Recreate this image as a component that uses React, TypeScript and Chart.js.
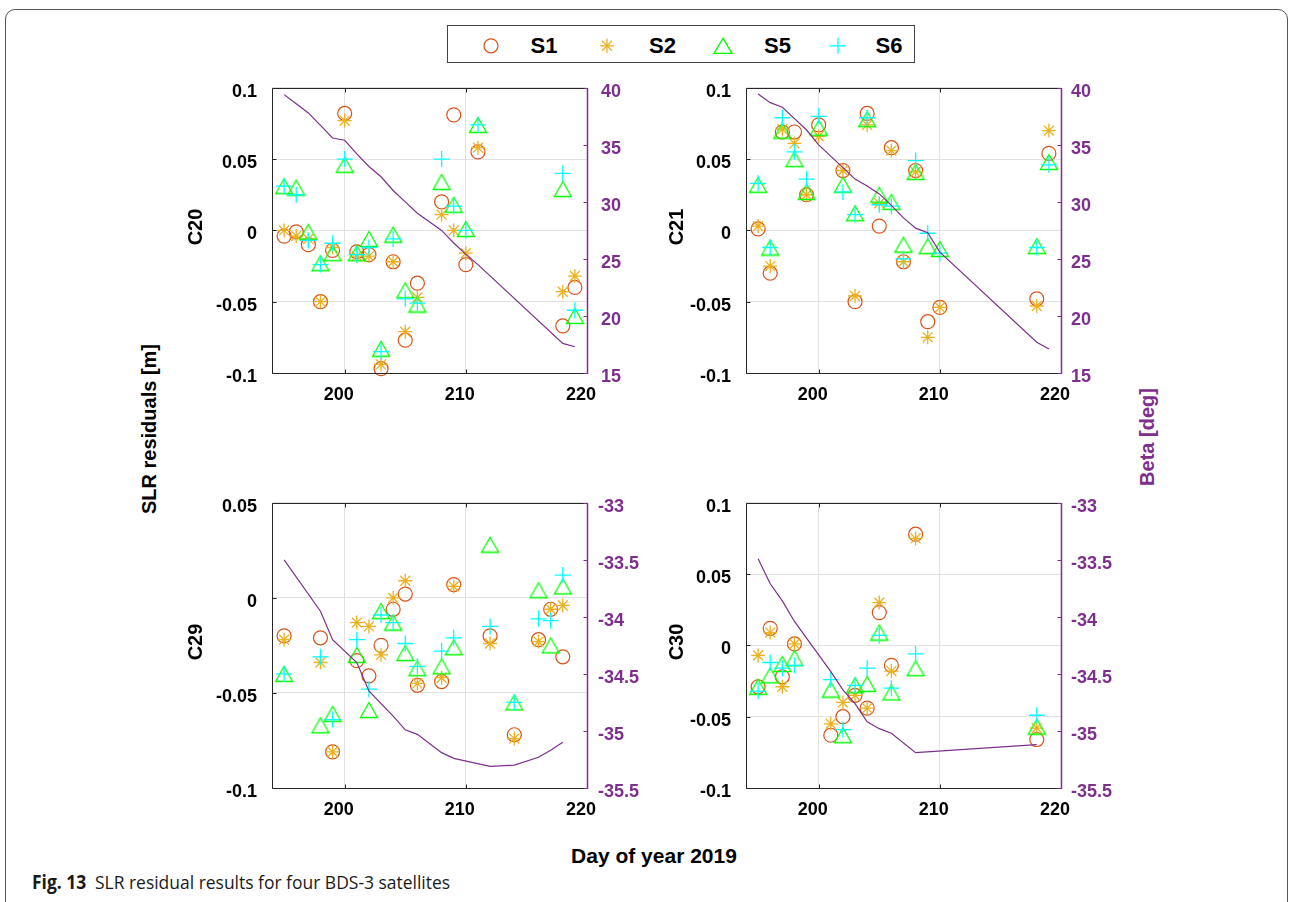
import React, { useEffect, useLayoutEffect, useRef, useState } from 'react';
import { Chart, registerables } from 'chart.js';

Chart.register(...registerables);

// ---------------- data ----------------
const X_TICKS = [200, 210, 220];
const Y_TICKS_FULL = [-0.1, -0.05, 0, 0.05, 0.1];
const Y_TICKS_C29 = [-0.1, -0.05, 0, 0.05];
const BETA_TICKS_TOP = [15, 20, 25, 30, 35, 40];
const BETA_TICKS_BOTTOM = [-35.5, -35, -34.5, -34, -33.5, -33];

const SERIES_NAMES = ['S1', 'S2', 'S5', 'S6'];

// C20
const C20_DAYS = [195, 196, 197, 198, 199, 200, 201, 202, 203, 204, 205, 206, 208, 209, 210, 211, 218, 219];
const C20_S1 = [-0.004, -0.001, -0.010, -0.050, -0.014, 0.082, -0.015, -0.017, -0.097, -0.022, -0.077, -0.037, 0.020, 0.081, -0.024, 0.055, -0.067, -0.040];
const C20_S2 = [0.000, -0.004, -0.006, -0.050, -0.012, 0.077, -0.018, -0.018, -0.094, -0.022, -0.071, -0.047, 0.011, 0.000, -0.016, 0.058, -0.043, -0.032];
const C20_S5 = [0.031, 0.030, -0.001, -0.023, -0.016, 0.046, -0.016, -0.006, -0.083, -0.003, -0.042, -0.052, 0.034, 0.018, 0.001, 0.074, 0.029, -0.060];
const C20_S6 = [0.031, 0.025, -0.007, -0.024, -0.009, 0.050, -0.017, -0.012, -0.085, -0.006, -0.048, -0.051, 0.050, 0.017, 0.000, 0.074, 0.040, -0.056];
const C20_BETA = [39.4, 38.6, 37.8, 36.7, 35.6, 35.4, 34.2, 33.1, 32.2, 31.0, 30.0, 29.0, 27.5, 26.4, 25.4, 24.5, 17.6, 17.3];

// C21
const C21_DAYS = [195, 196, 197, 198, 199, 200, 202, 203, 204, 205, 206, 207, 208, 209, 210, 218, 219];
const C21_S1 = [0.001, -0.030, 0.069, 0.069, 0.025, 0.074, 0.042, -0.050, 0.082, 0.003, 0.058, -0.022, 0.042, -0.064, -0.054, -0.048, 0.054];
const C21_S2 = [0.003, -0.025, 0.071, 0.061, 0.025, 0.066, 0.042, -0.046, 0.074, 0.019, 0.056, -0.022, 0.041, -0.075, -0.054, -0.053, 0.070];
const C21_S5 = [0.032, -0.012, 0.070, 0.050, 0.027, 0.072, 0.032, 0.012, 0.078, 0.025, 0.020, -0.010, 0.041, -0.011, -0.013, -0.011, 0.048];
const C21_S6 = [0.033, -0.012, 0.079, 0.055, 0.036, 0.080, 0.027, 0.011, 0.079, 0.018, 0.017, -0.020, 0.049, -0.002, -0.016, -0.012, 0.046];
const C21_BETA = [39.45, 38.7, 38.3, 37.3, 36.3, 35.0, 33.0, 32.0, 31.4, 30.7, 29.7, 28.6, 27.7, 27.3, 25.6, 17.7, 17.1];

// C29
const C29_DAYS = [195, 198, 199, 201, 202, 203, 204, 205, 206, 208, 209, 212, 214, 216, 217, 218];
const C29_S1 = [-0.020, -0.021, -0.081, -0.033, -0.041, -0.025, -0.006, 0.002, -0.046, -0.044, 0.007, -0.020, -0.072, -0.022, -0.006, -0.031];
const C29_S2 = [-0.022, -0.034, -0.081, -0.013, -0.015, -0.030, 0.000, 0.009, -0.045, -0.042, 0.006, -0.024, -0.074, -0.023, -0.006, -0.004];
const C29_S5 = [-0.040, -0.067, -0.061, -0.030, -0.059, -0.007, -0.013, -0.029, -0.037, -0.036, -0.026, 0.028, -0.055, 0.004, -0.025, 0.006];
const C29_S6 = [-0.040, -0.031, -0.064, -0.022, -0.048, -0.009, -0.013, -0.024, -0.036, -0.028, -0.021, -0.015, -0.055, -0.011, -0.012, 0.012];
const C29_BETA = [-33.50, -33.95, -34.20, -34.40, -34.65, -34.76, -34.87, -34.99, -35.03, -35.19, -35.24, -35.31, -35.30, -35.23, -35.17, -35.10];

// C30
const C30_DAYS = [195, 196, 197, 198, 201, 202, 203, 204, 205, 206, 208, 218];
const C30_S1 = [-0.029, 0.012, -0.022, 0.001, -0.063, -0.050, -0.035, -0.044, 0.023, -0.014, 0.078, -0.066];
const C30_S2 = [-0.007, 0.009, -0.029, 0.001, -0.055, -0.040, -0.035, -0.044, 0.030, -0.018, 0.075, -0.058];
const C30_S5 = [-0.029, -0.021, -0.013, -0.009, -0.031, -0.063, -0.028, -0.027, 0.009, -0.033, -0.016, -0.057];
const C30_S6 = [-0.032, -0.012, -0.016, -0.014, -0.024, -0.059, -0.028, -0.016, 0.007, -0.030, -0.006, -0.049];
const C30_BETA = [-33.49, -33.71, -33.86, -34.04, -34.48, -34.64, -34.76, -34.92, -34.98, -35.02, -35.19, -35.12];

// ---------------- styles ----------------
const FONT = '"Liberation Sans", Arial, Helvetica, sans-serif';
const PURPLE = '#7E2F8E';
const C_S1 = '#D95319';
const C_S2 = '#EDB120';
const C_S5 = '#00FF00';
const C_S6 = '#00FFFF';
const GRID = '#e2e2e2';
const AXIS = '#262626';

const PLOT_W = 315;
const PLOT_H = 299;
const PAD_L = 80;
const PAD_R = 60;
const PAD_T = 12;
const PAD_B = 40;

type PanelDef = {
  name: string;
  left: number;
  top: number;
  titleX: number;
  days: number[];
  s: number[][];
  beta: number[];
  yMin: number;
  yMax: number;
  yTicks: number[];
  bMin: number;
  bMax: number;
  bTicks: number[];
  rightPad: number;
};

const PANELS: PanelDef[] = [
  { name: 'C20', left: 272, top: 74, titleX: 194.5, days: C20_DAYS, s: [C20_S1, C20_S2, C20_S5, C20_S6], beta: C20_BETA, yMin: -0.1, yMax: 0.1, yTicks: Y_TICKS_FULL, bMin: 15, bMax: 40, bTicks: BETA_TICKS_TOP, rightPad: 14 },
  { name: 'C21', left: 746, top: 74, titleX: 676, days: C21_DAYS, s: [C21_S1, C21_S2, C21_S5, C21_S6], beta: C21_BETA, yMin: -0.1, yMax: 0.1, yTicks: Y_TICKS_FULL, bMin: 15, bMax: 40, bTicks: BETA_TICKS_TOP, rightPad: 10 },
  { name: 'C29', left: 272, top: 489, titleX: 194.5, days: C29_DAYS, s: [C29_S1, C29_S2, C29_S5, C29_S6], beta: C29_BETA, yMin: -0.1, yMax: 0.05, yTicks: Y_TICKS_C29, bMin: -35.5, bMax: -33, bTicks: BETA_TICKS_BOTTOM, rightPad: 11 },
  { name: 'C30', left: 746, top: 489, titleX: 676, days: C30_DAYS, s: [C30_S1, C30_S2, C30_S5, C30_S6], beta: C30_BETA, yMin: -0.1, yMax: 0.1, yTicks: Y_TICKS_FULL, bMin: -35.5, bMax: -33, bTicks: BETA_TICKS_BOTTOM, rightPad: 10 },
];

function makeTriangle(color: string): HTMLCanvasElement {
  const c = document.createElement('canvas');
  c.width = 20;
  c.height = 18;
  const ctx = c.getContext('2d')!;
  ctx.strokeStyle = color;
  ctx.lineWidth = 1.3;
  ctx.lineJoin = 'miter';
  ctx.beginPath();
  ctx.moveTo(10, 1.5);
  ctx.lineTo(1.5, 16.5);
  ctx.lineTo(18.5, 16.5);
  ctx.closePath();
  ctx.stroke();
  return c;
}

const boxPlugin = {
  id: 'matlabBox',
  afterDraw(chart: any) {
    const { ctx, chartArea: a, scales } = chart;
    const L = Math.round(a.left) + 0.5;
    const R = Math.round(a.right) + 0.5;
    const T = Math.round(a.top) + 0.5;
    const B = Math.round(a.bottom) + 0.5;
    const tl = 4;
    ctx.save();
    ctx.lineWidth = 1;
    ctx.strokeStyle = AXIS;
    ctx.beginPath();
    scales.x.ticks.forEach((t: any) => {
      const px = Math.round(scales.x.getPixelForValue(t.value)) + 0.5;
      ctx.moveTo(px, B);
      ctx.lineTo(px, B - tl);
      ctx.moveTo(px, T);
      ctx.lineTo(px, T + tl);
    });
    scales.y.ticks.forEach((t: any) => {
      const py = Math.round(scales.y.getPixelForValue(t.value)) + 0.5;
      ctx.moveTo(L, py);
      ctx.lineTo(L + tl, py);
    });
    ctx.stroke();
    ctx.beginPath();
    ctx.moveTo(R, T);
    ctx.lineTo(L, T);
    ctx.lineTo(L, B);
    ctx.lineTo(R, B);
    ctx.stroke();
    ctx.strokeStyle = PURPLE;
    ctx.lineWidth = 1.5;
    ctx.beginPath();
    ctx.moveTo(R, T - 0.5);
    ctx.lineTo(R, B + 0.5);
    ctx.stroke();
    ctx.lineWidth = 1;
    ctx.beginPath();
    scales.y1.ticks.forEach((t: any) => {
      const py = Math.round(scales.y1.getPixelForValue(t.value)) + 0.5;
      ctx.moveTo(R, py);
      ctx.lineTo(R - tl, py);
    });
    ctx.stroke();
    ctx.restore();
  },
};

const tickFont = { family: FONT, size: 18, weight: 'bold' as const };

function Panel({ def }: { def: PanelDef }) {
  const ref = useRef<HTMLCanvasElement>(null);
  const W = PAD_L + PLOT_W + PAD_R;
  const H = PAD_T + PLOT_H + PAD_B;
  useEffect(() => {
    if (!ref.current) return;
    const mk = (vals: number[]) => def.days.map((d, i) => ({ x: d, y: vals[i] }));
    const tri = makeTriangle(C_S5);
    const chart = new Chart(ref.current, {
      type: 'scatter',
      data: {
        datasets: [
          { label: SERIES_NAMES[0], data: mk(def.s[0]), yAxisID: 'y', pointStyle: 'circle', pointRadius: 7, borderColor: C_S1, backgroundColor: 'rgba(0,0,0,0)', borderWidth: 1.2, order: 4, clip: false },
          { label: SERIES_NAMES[1], data: mk(def.s[1]), yAxisID: 'y', pointStyle: 'star', pointRadius: 7, borderColor: C_S2, backgroundColor: 'rgba(0,0,0,0)', borderWidth: 1.3, order: 3, clip: false },
          { label: SERIES_NAMES[2], data: mk(def.s[2]), yAxisID: 'y', pointStyle: tri, pointRadius: 9, borderColor: C_S5, backgroundColor: 'rgba(0,0,0,0)', borderWidth: 1.2, order: 2, clip: false },
          { label: SERIES_NAMES[3], data: mk(def.s[3]), yAxisID: 'y', pointStyle: 'cross', pointRadius: 8, borderColor: C_S6, backgroundColor: 'rgba(0,0,0,0)', borderWidth: 1.3, order: 1, clip: false },
          { type: 'line', label: 'Beta', data: mk(def.beta), yAxisID: 'y1', borderColor: PURPLE, borderWidth: 1.2, pointRadius: 0, showLine: true, fill: false, tension: 0, order: 0 } as any,
        ],
      },
      options: {
        responsive: false,
        maintainAspectRatio: false,
        animation: false,
        events: [],
        layout: { padding: { top: PAD_T, left: 0, right: 0, bottom: 0 } },
        plugins: { legend: { display: false }, tooltip: { enabled: false } },
        scales: {
          x: {
            type: 'linear',
            min: 194,
            max: 220,
            afterBuildTicks: (ax: any) => { ax.ticks = X_TICKS.map((v) => ({ value: v })); },
            afterFit: (ax: any) => { ax.height = PAD_B; },
            grid: { color: GRID, lineWidth: 1, drawTicks: false },
            border: { display: false },
            ticks: { font: tickFont, color: '#000', padding: 11, labelOffset: -6, maxRotation: 0, autoSkip: false, callback: (v: any) => String(v) },
          },
          y: {
            type: 'linear',
            position: 'left',
            min: def.yMin,
            max: def.yMax,
            afterBuildTicks: (ax: any) => { ax.ticks = def.yTicks.map((v) => ({ value: v })); },
            afterFit: (ax: any) => { ax.width = PAD_L; },
            grid: { color: GRID, lineWidth: 1, drawTicks: false },
            border: { display: false },
            ticks: { font: tickFont, color: '#000', padding: 15, labelOffset: 4, autoSkip: false, callback: (v: any) => String(v) },
          },
          y1: {
            type: 'linear',
            position: 'right',
            min: def.bMin,
            max: def.bMax,
            afterBuildTicks: (ax: any) => { ax.ticks = def.bTicks.map((v) => ({ value: v })); },
            afterFit: (ax: any) => { ax.width = PAD_R; },
            grid: { display: false, drawTicks: false },
            border: { display: false },
            ticks: { font: tickFont, color: PURPLE, padding: def.rightPad, labelOffset: 4, autoSkip: false, callback: (v: any) => String(v) },
          },
        },
      } as any,
      plugins: [boxPlugin],
    });
    return () => chart.destroy();
  }, [def]);
  return (
    <canvas
      ref={ref}
      width={W}
      height={H}
      style={{ position: 'absolute', left: def.left - PAD_L, top: def.top - PAD_T, width: W, height: H }}
    />
  );
}

function RotText({ x, y, text, color }: { x: number; y: number; text: string; color?: string }) {
  return (
    <div
      style={{
        position: 'absolute',
        left: x,
        top: y,
        transform: 'translate(-50%, -50%) rotate(-90deg)',
        whiteSpace: 'nowrap',
        fontFamily: FONT,
        fontWeight: 'bold',
        fontSize: 20,
        lineHeight: '20px',
        color: color || '#000',
      }}
    >
      {text}
    </div>
  );
}

function Legend() {
  const cy = 20.8;
  const xs = [44, 160, 276, 391];
  const textX = [544, 662.5, 777.5, 889];
  return (
    <>
      <div style={{ position: 'absolute', left: 447, top: 25, width: 468, height: 38, boxSizing: 'border-box', border: '1px solid #444', background: '#fff' }} />
      <svg width={468} height={38} style={{ position: 'absolute', left: 447, top: 25 }}>
        <circle cx={xs[0]} cy={cy} r={7} fill="none" stroke={C_S1} strokeWidth={1.2} />
        <g stroke={C_S2} strokeWidth={1.3}>
          <line x1={xs[1] - 7} y1={cy} x2={xs[1] + 7} y2={cy} />
          <line x1={xs[1]} y1={cy - 7} x2={xs[1]} y2={cy + 7} />
          <line x1={xs[1] - 5} y1={cy - 5} x2={xs[1] + 5} y2={cy + 5} />
          <line x1={xs[1] - 5} y1={cy + 5} x2={xs[1] + 5} y2={cy - 5} />
        </g>
        <polygon points={`${xs[2]},${cy - 7.5} ${xs[2] - 9},${cy + 7.5} ${xs[2] + 9},${cy + 7.5}`} fill="none" stroke={C_S5} strokeWidth={1.3} />
        <g stroke={C_S6} strokeWidth={1.3}>
          <line x1={xs[3] - 8} y1={cy} x2={xs[3] + 8} y2={cy} />
          <line x1={xs[3]} y1={cy - 8} x2={xs[3]} y2={cy + 8} />
        </g>
      </svg>
      {SERIES_NAMES.map((n, i) => (
        <div
          key={n}
          style={{
            position: 'absolute',
            left: textX[i],
            top: 45.8,
            transform: 'translate(-50%, -50%)',
            fontFamily: FONT,
            fontWeight: 'bold',
            fontSize: 22,
            lineHeight: '22px',
            whiteSpace: 'nowrap',
            color: '#000',
          }}
        >
          {n}
        </div>
      ))}
    </>
  );
}

const CAPTION_WIDTH = 418;

function Caption() {
  const ref = useRef<HTMLDivElement>(null);
  const [sx, setSx] = useState(1);
  useLayoutEffect(() => {
    if (ref.current) {
      const w = ref.current.scrollWidth;
      if (w > 0) setSx(CAPTION_WIDTH / w);
    }
  }, []);
  return (
    <div
      ref={ref}
      style={{
        position: 'absolute',
        left: 32,
        top: 873,
        fontFamily: '"Open Sans", "Noto Sans", sans-serif',
        fontSize: 19,
        lineHeight: '18px',
        whiteSpace: 'nowrap',
        color: '#1a1a1a',
        transformOrigin: '0 0',
        transform: `scaleX(${sx})`,
      }}
    >
      <span style={{ fontWeight: 700 }}>Fig. 13</span>
      <span>{'\u2002SLR residual results for four BDS-3 satellites'}</span>
    </div>
  );
}

export default function App() {
  return (
    <div style={{ position: 'absolute', left: 0, top: 0, width: 1290, height: 902, background: '#fff', overflow: 'hidden' }}>
      <div style={{ position: 'absolute', left: 5, top: 9, width: 1283, height: 1000, boxSizing: 'border-box', border: '1.5px solid #555', borderRadius: 10 }} />
      {PANELS.map((p) => (
        <Panel key={p.name} def={p} />
      ))}
      {PANELS.map((p) => (
        <RotText key={'t' + p.name} x={p.titleX} y={p.top + PLOT_H / 2 + 3} text={p.name} />
      ))}
      <Legend />
      <RotText x={149} y={428.5} text="SLR residuals [m]" />
      <RotText x={1147} y={437} text="Beta [deg]" color={PURPLE} />
      <div
        style={{
          position: 'absolute',
          left: 654,
          top: 854.5,
          transform: 'translate(-50%, -50%)',
          fontFamily: FONT,
          fontWeight: 'bold',
          fontSize: 21,
          lineHeight: '21px',
          whiteSpace: 'nowrap',
          color: '#000',
        }}
      >
        Day of year 2019
      </div>
      <Caption />
    </div>
  );
}
